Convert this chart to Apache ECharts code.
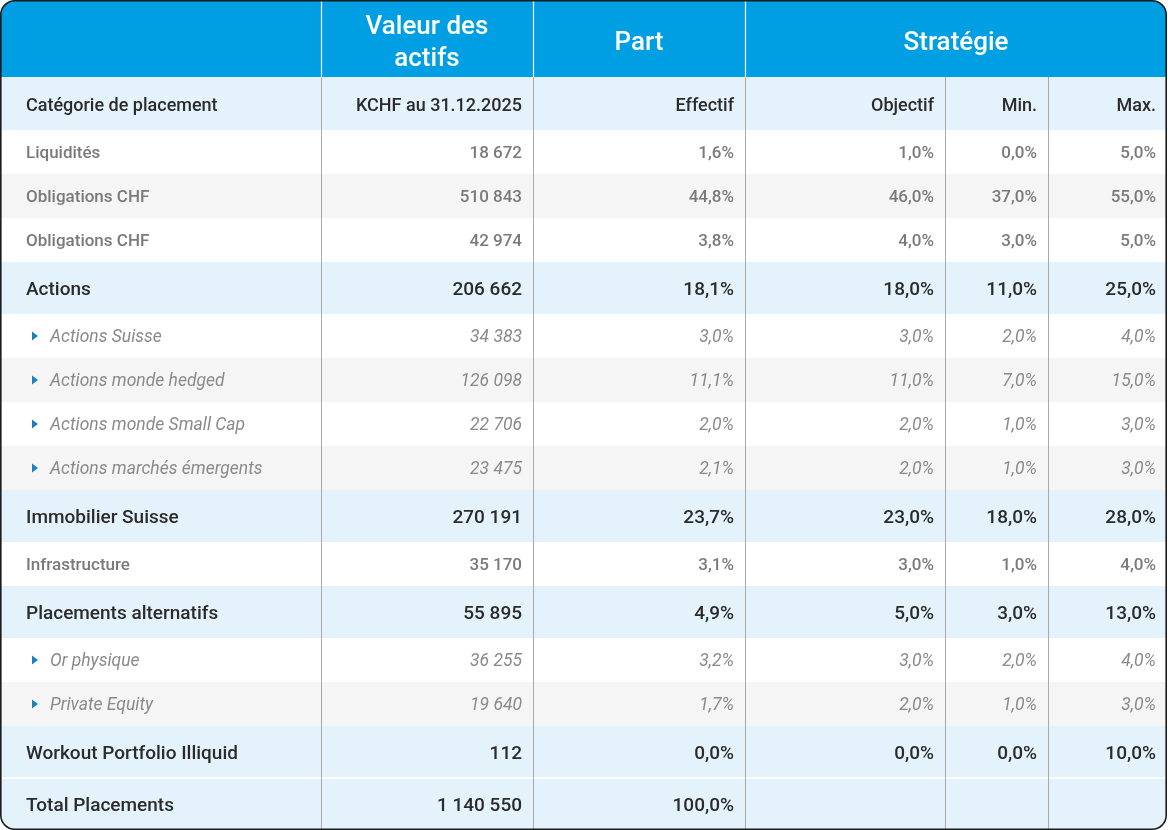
<!DOCTYPE html>
<html>
<head>
<meta charset="utf-8">
<script src="https://cdn.jsdelivr.net/npm/echarts@6/dist/echarts.min.js"></script>
<style>
html, body { margin: 0; padding: 0; background: #fff; }
#chart { width: 1168px; height: 830px; }
</style>
</head>
<body>
<div id="chart"></div>
<script>
// données du tableau
var categories = ['Liquidités', 'Obligations CHF', 'Obligations CHF', 'Actions', 'Actions Suisse',
    'Actions monde hedged', 'Actions monde Small Cap', 'Actions marchés émergents', 'Immobilier Suisse',
    'Infrastructure', 'Placements alternatifs', 'Or physique', 'Private Equity',
    'Workout Portfolio Illiquid', 'Total Placements'];
var rowTypes = ['plain', 'plain', 'plain', 'group', 'sub', 'sub', 'sub', 'sub', 'group',
    'plain', 'group', 'sub', 'sub', 'group', 'total'];
var valeurs = [18672, 510843, 42974, 206662, 34383, 126098, 22706, 23475, 270191, 35170, 55895, 36255, 19640, 112, 1140550];
var effectif = [1.6, 44.8, 3.8, 18.1, 3.0, 11.1, 2.0, 2.1, 23.7, 3.1, 4.9, 3.2, 1.7, 0.0, 100.0];
var objectif = [1.0, 46.0, 4.0, 18.0, 3.0, 11.0, 2.0, 2.0, 23.0, 3.0, 5.0, 3.0, 2.0, 0.0, null];
var minimum = [0.0, 37.0, 3.0, 11.0, 2.0, 7.0, 1.0, 1.0, 18.0, 1.0, 3.0, 2.0, 1.0, 0.0, null];
var maximum = [5.0, 55.0, 5.0, 25.0, 4.0, 15.0, 3.0, 3.0, 28.0, 4.0, 13.0, 4.0, 3.0, 10.0, null];
var headerTitles = ['Valeur des\nactifs', 'Part', 'Stratégie'];
var subHeaders = ['Catégorie de placement', 'KCHF au 31.12.2025', 'Effectif', 'Objectif', 'Min.', 'Max.'];

(function () {
    var myChart = echarts.init(document.getElementById('chart'));

    // mise en page
    var W = 1168;
    var colX = [0, 321, 533, 745, 945, 1048, 1167];
    var headerH = 77, subH = 53;
    var rowH = { plain: 44, sub: 44, group: 52, total: 52 };
    var dy = 2; // petit décalage vertical du texte
    var font = 'Roboto, "Noto Sans", sans-serif';
    var blue = '#009fe3', lightBlue = '#e4f2fb', grey = '#f5f5f5';

    function fmtNum(n) {
        return String(n).replace(/\B(?=(\d{3})+(?!\d))/g, ' ');
    }
    function fmtPct(v) {
        if (v === null) return '';
        return v.toFixed(1).replace('.', ',') + '%';
    }

    var els = [];
    var texts = [];

    // en-tête bleu
    els.push({ type: 'rect', shape: { x: 0.8, y: 0.8, width: W - 2.6, height: headerH, r: [14, 14, 0, 0] }, style: { fill: blue }, silent: true });
    // sous-en-tête
    els.push({ type: 'rect', shape: { x: 0.8, y: headerH, width: W - 2.6, height: subH }, style: { fill: lightBlue }, silent: true });

    var headerCenters = [(colX[1] + colX[2]) / 2, (colX[2] + colX[3]) / 2, (colX[3] + colX[6]) / 2];
    headerTitles.forEach(function (t, i) {
        texts.push({ type: 'text', x: headerCenters[i], y: 41 + dy, style: { text: t, fill: '#fff', font: '500 26px ' + font, align: 'center', verticalAlign: 'middle', lineHeight: 32 } });
    });

    subHeaders.forEach(function (t, i) {
        var left = i === 0;
        texts.push({ type: 'text', x: left ? 26 : colX[i + 1] - 11, y: headerH + subH / 2 + dy + 1, style: { text: t, fill: '#2b2b2b', font: '500 18px ' + font, align: left ? 'left' : 'right', verticalAlign: 'middle' } });
    });

    // lignes du tableau
    var y = headerH + subH;
    var alt = 0;
    categories.forEach(function (name, i) {
        var type = rowTypes[i];
        var h = rowH[type];
        var fill;
        if (type === 'group' || type === 'total') { fill = lightBlue; alt = 0; }
        else { fill = alt % 2 ? grey : '#fff'; alt++; }
        var shape = { x: 0.8, y: y, width: W - 2.6, height: h };
        if (type === 'total') shape.r = [0, 0, 14, 14];
        els.push({ type: 'rect', shape: shape, style: { fill: fill }, silent: true });
        if (type === 'total') {
            els.push({ type: 'line', shape: { x1: 0, y1: y, x2: W, y2: y }, style: { stroke: '#fff', lineWidth: 2 }, silent: true });
        }

        var cy = y + h / 2;
        var st;
        if (type === 'plain') st = { fill: '#7a7a7a', font: '500 17px ' + font };
        else if (type === 'sub') st = { fill: '#8a8a8a', font: 'italic 400 17.5px ' + font };
        else st = { fill: '#2b2b2b', font: '500 19px ' + font };

        var lx = 26;
        if (type === 'sub') {
            lx = 50;
            els.push({ type: 'polygon', shape: { points: [[32, cy - 4.5], [38, cy], [32, cy + 4.5]] }, style: { fill: '#1b7fc0' }, silent: true });
        }
        texts.push({ type: 'text', x: lx, y: cy + dy, style: { text: name, fill: st.fill, font: st.font, align: 'left', verticalAlign: 'middle' } });

        var cells = [fmtNum(valeurs[i]), fmtPct(effectif[i]), fmtPct(objectif[i]), fmtPct(minimum[i]), fmtPct(maximum[i])];
        cells.forEach(function (c, j) {
            if (!c) return;
            texts.push({ type: 'text', x: colX[j + 2] - 11, y: cy + dy, style: { text: c, fill: st.fill, font: st.font, align: 'right', verticalAlign: 'middle' } });
        });
        y += h;
    });

    // séparateurs verticaux
    [1, 2, 3].forEach(function (k) {
        els.push({ type: 'line', shape: { x1: colX[k] + 0.5, y1: 1, x2: colX[k] + 0.5, y2: headerH }, style: { stroke: '#fff', lineWidth: 1.2 }, silent: true });
    });
    [1, 2, 3, 4, 5].forEach(function (k) {
        els.push({ type: 'line', shape: { x1: colX[k] + 0.5, y1: headerH, x2: colX[k] + 0.5, y2: 829 }, style: { stroke: '#a9a9a9', lineWidth: 1 }, silent: true });
    });

    // cadre arrondi
    els.push({ type: 'rect', shape: { x: 0.8, y: 0.8, width: W - 2.6, height: 828.4, r: 14 }, style: { fill: null, stroke: '#1c1c1c', lineWidth: 1.6 }, silent: true });

    var option = {
        animation: false,
        graphic: { elements: els.concat(texts) }
    };
    myChart.setOption(option);
    window.addEventListener('resize', function () {
        myChart.resize();
    });
})();
</script>
</body>
</html>
